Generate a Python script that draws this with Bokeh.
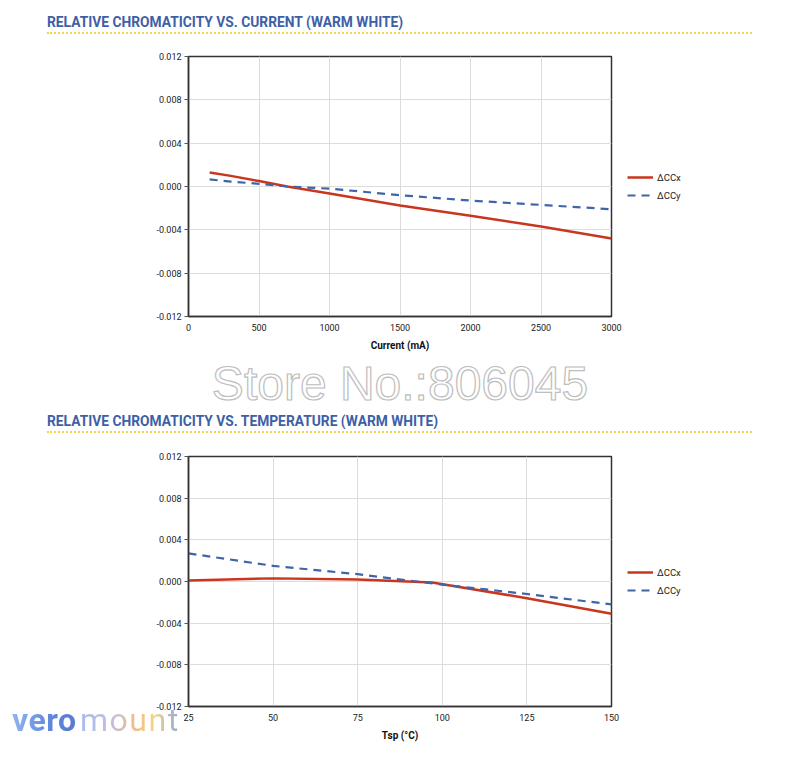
from bokeh.plotting import figure
from bokeh.models import Div, Legend, LegendItem, FixedTicker, PrintfTickFormatter, Range1d
from bokeh.layouts import column
from bokeh.embed import file_html
from bokeh.resources import INLINE

# ---- data ----
current = [150, 300, 500, 700, 1000, 1500, 2000, 2500, 3000]
ccx_current = [0.0013, 0.00098, 0.0005, 0.0000, -0.00065, -0.00175, -0.0027, -0.0037, -0.0048]
ccy_current = [0.00065, 0.00045, 0.00025, 0.0000, -0.0002, -0.0008, -0.0013, -0.0017, -0.0021]

tsp_x = [25, 50, 75, 97, 125, 150]
ccx_temp = [0.0001, 0.0003, 0.0002, -0.0001, -0.0016, -0.0031]
tsp_y = [25, 50, 75, 100, 125, 150]
ccy_temp = [0.0027, 0.0015, 0.0007, -0.0003, -0.0012, -0.0022]

y_ticks = [-0.012, -0.008, -0.004, 0.0, 0.004, 0.008, 0.012]
x_ticks_current = [0, 500, 1000, 1500, 2000, 2500, 3000]
x_ticks_temp = [25, 50, 75, 100, 125, 150]

title1 = "RELATIVE CHROMATICITY VS. CURRENT (WARM WHITE)"
title2 = "RELATIVE CHROMATICITY VS. TEMPERATURE (WARM WHITE)"
xlabel1 = "Current (mA)"
xlabel2 = "Tsp (°C)"
watermark = "Store No.:806045"
logo_a = "vero"
logo_b = "mount"

RED = "#c9361f"
BLUE = "#3f64a9"
TITLE_BLUE = "#3e5fa6"
W = 800


def title_div(text, height, top):
    html = (f'<div style="position:relative;width:{W}px;height:{height}px;">'
            f'<div style="position:absolute;left:47px;top:{top}px;width:705px;height:22px;'
            f'line-height:21px;border-bottom:2px dotted #f0d456;color:{TITLE_BLUE};'
            f'font-family:Roboto, sans-serif;font-weight:bold;font-size:13.8px;white-space:nowrap;">'
            f'{text}</div></div>')
    return Div(text=html, width=W, height=height, margin=0)


def make_chart(xs_x, ys_x, xs_y, ys_y, xr, xticks, xlabel, height, bottom, frame_h):
    p = figure(width=W, height=height, output_backend="svg", toolbar_location=None,
               x_range=Range1d(*xr), y_range=Range1d(-0.012, 0.012),
               min_border_left=188, min_border_right=189, min_border_top=16,
               min_border_bottom=bottom)
    p.frame_width = 423
    p.frame_height = frame_h
    p.outline_line_color = "#333333"
    p.outline_line_width = 1.5
    p.background_fill_color = "white"
    p.border_fill_color = "white"
    for g in (p.xgrid, p.ygrid):
        g.grid_line_color = "#dcdcdc"
        g.grid_line_width = 1
    p.xaxis.ticker = FixedTicker(ticks=xticks)
    p.yaxis.ticker = FixedTicker(ticks=y_ticks)
    p.yaxis.formatter = PrintfTickFormatter(format="%.3f")
    for ax in (p.xaxis, p.yaxis):
        ax.axis_line_color = "#333333"
        ax.axis_line_width = 1.5
        ax.major_tick_line_color = "#555555"
        ax.minor_tick_line_color = None
        ax.major_label_text_font = "Roboto"
        ax.major_label_text_font_size = "9px"
        ax.major_label_text_color = "#222222"
    p.xaxis.major_tick_out = 0
    p.xaxis.major_tick_in = 0
    p.xaxis.major_label_standoff = 7
    p.yaxis.major_tick_out = 4
    p.yaxis.major_tick_in = 0
    p.yaxis.major_label_standoff = 3
    p.xaxis.axis_label = xlabel
    p.xaxis.axis_label_text_font = "Roboto"
    p.xaxis.axis_label_text_font_style = "bold"
    p.xaxis.axis_label_text_font_size = "10px"
    p.xaxis.axis_label_text_color = "#111111"
    p.xaxis.axis_label_standoff = 6

    r1 = p.line(xs_x, ys_x, line_color=RED, line_width=2.5)
    r2 = p.line(xs_y, ys_y, line_color=BLUE, line_width=2.2, line_dash="8 6")
    legend = Legend(items=[LegendItem(label="ΔCCx", renderers=[r1]),
                           LegendItem(label="ΔCCy", renderers=[r2])],
                    location="center_left", margin=16, padding=0, spacing=4,
                    glyph_width=26, glyph_height=14, label_standoff=4,
                    label_text_font="Roboto", label_text_font_size="9.5px",
                    label_text_color="#222222", border_line_color=None,
                    background_fill_alpha=0)
    p.add_layout(legend, "right")
    return p


d1 = title_div(title1, 40, 12)
p1 = make_chart(current, ccx_current, current, ccy_current, (0, 3000), x_ticks_current,
                xlabel1, 315, 39, 260)

wm_html = (f'<div style="width:{W}px;height:50px;text-align:center;'
           'font-family:Liberation Sans, Arial, sans-serif;font-size:48px;line-height:57px;'
           'color:#ffffff;-webkit-text-stroke:1.2px #bdbdbd;white-space:nowrap;">'
           f'{watermark}</div>')
dwm = Div(text=wm_html, width=W, height=50, margin=0)

d2 = title_div(title2, 35, 6)
p2 = make_chart(tsp_x, ccx_temp, tsp_y, ccy_temp, (25, 150), x_ticks_temp,
                xlabel2, 335, 69, 250)

logo_html = ('<div style="position:relative;width:200px;height:40px;white-space:nowrap;'
             'font-family:Roboto, sans-serif;font-size:32px;line-height:40px;">'
             '<span style="position:absolute;left:12px;top:0px;font-weight:bold;letter-spacing:0.5px;'
             'background:linear-gradient(90deg,#8fb6ec,#5f86dc 60%,#5a78d2);'
             '-webkit-background-clip:text;background-clip:text;color:transparent;">'
             f'{logo_a}</span>'
             '<span style="position:absolute;left:80px;top:0px;letter-spacing:1.5px;'
             'background:linear-gradient(90deg,#a9bbec,#bdbde6 30%,#f0bd86 55%,#f1d58c 75%,#8fa8dc);'
             '-webkit-background-clip:text;background-clip:text;color:transparent;">'
             f'{logo_b}</span></div>')
dlogo = Div(text=logo_html, width=200, height=40, margin=(-75, 0, 0, 0))

layout = column(d1, p1, dwm, d2, p2, dlogo, spacing=0)
open("out.html", "w").write(file_html(layout, INLINE))
